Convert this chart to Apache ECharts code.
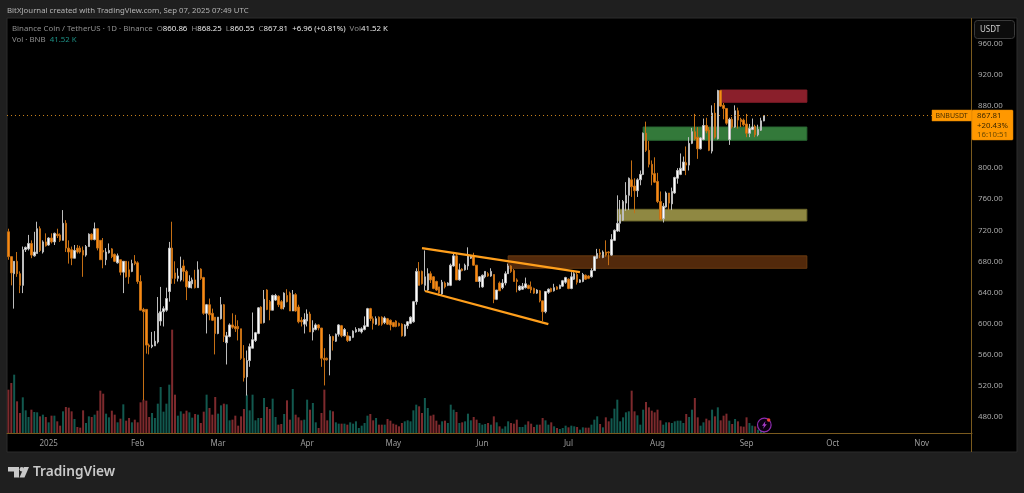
<!DOCTYPE html>
<html><head><meta charset="utf-8">
<style>html,body{margin:0;padding:0;background:#1f1f1f}#c{width:1024px;height:493px}</style>
<script src="https://cdn.jsdelivr.net/npm/echarts@6/dist/echarts.min.js"></script></head>
<body><div id="c"></div>
<script>
const startDay = '2024-12-18';
const dayCount = 336;
const tickLabels = {'2025-01-01':'2025','2025-02-01':'Feb','2025-03-01':'Mar','2025-04-01':'Apr','2025-05-01':'May','2025-06-01':'Jun','2025-07-01':'Jul','2025-08-01':'Aug','2025-09-01':'Sep','2025-10-01':'Oct','2025-11-01':'Nov'};
const hiddenPriceTicks = [440,840,1000];
// open, close, low, high
const candlesWinter = [
[718,686,682,722],[686,665,649,686],[664,680,619,680],[680,664,660,692],[664,649,639,667],[649,695,639,699],[695,698,692,699],[696,703,694,714],[703,688,684,707],[687,692,686,718],
[690,722,690,731],[722,694,692,725],[692,705,690,707],[705,700,699,716],[701,710,700,711],[710,705,703,716],[705,716,701,717],[715,713,710,722],[714,707,705,716],[707,729,707,746],
[729,697,692,733],[697,692,677,707],[695,684,675,699],[684,694,684,701],[697,692,690,701],[697,692,690,700],[694,688,660,699],[688,699,686,701],[699,715,699,716],[715,708,707,716],
[708,722,707,730],[722,697,694,722],[707,682,682,707],[694,692,671,710],[682,692,675,697],[691,694,690,703],[696,686,684,697],[689,680,679,690],[678,687,677,690],[682,666,662,682],
[666,680,639,680],[680,660,659,680],[669,660,651,680],[667,677,666,682],[680,677,675,688],[678,654,651,680],[654,617,617,662],[618,615,501,620],[618,572,561,618],[572,570,560,574],
[570,572,568,589],[571,577,571,590],[576,613,574,634],[603,615,597,647],[615,619,596,622],[617,632,615,646],[641,697,628,705],[697,658,651,731],[665,658,651,680],[658,661,654,671],
[656,671,654,686],[674,667,654,682],[667,647,630,669],[646,654,646,662],[651,656,645,659],[656,646,645,669],[646,669,646,680],[670,658,656,671],[659,613,611,660],[613,624,587,625],
[624,611,604,632],[613,604,603,619],[608,587,560,608],[587,608,586,608],[606,624,605,634],[624,583,576,625],[575,584,547,589],[583,598,582,600],[598,595,593,613],[596,593,589,611],
[596,593,578,604],[593,555,553,593],[555,530,525,572],[531,552,507,565],[552,570,544,574],[568,579,568,614],[578,588,576,589],[587,620,586,621]];
const candlesSpring = [
[621,600,600,622],[601,631,600,643],[643,618,617,644],[628,617,604,630],[617,636,617,637],[630,636,629,638],[635,624,621,636],[628,619,618,630],[621,639,618,640],[636,628,627,644],
[639,616,616,641],[616,637,616,643],[637,616,615,639],[621,602,600,624],[604,602,596,608],[599,605,587,613],[603,612,596,618],[612,589,589,615],[589,594,578,604],[592,598,591,600],
[598,594,591,599],[594,555,544,594],[555,553,520,568],[555,553,552,556],[553,583,533,586],[583,578,565,584],[577,586,576,587],[586,598,583,599],[597,584,582,598],[584,592,583,594],
[584,578,576,589],[578,583,577,584],[582,590,581,591],[589,592,588,595],[590,593,589,594],[589,593,587,595],[592,597,591,609],[596,619,596,620],[619,606,603,620],[606,600,592,609],
[599,606,598,609],[608,598,597,609],[608,599,597,609],[601,607,599,609],[606,599,598,607],[604,598,591,605],[601,596,595,602],[603,596,595,604],[600,597,596,601],[599,584,583,600],
[584,598,583,599],[597,602,593,603],[600,608,599,609],[602,628,601,629],[628,667,624,671],[667,649,649,679],[667,651,650,668],[649,660,642,694],[643,664,642,671],[664,656,652,667],
[660,645,644,661],[654,643,642,655],[647,639,636,647],[638,653,636,656],[652,647,645,654],[649,652,648,653],[649,675,648,677],[674,687,673,690],[687,656,656,690],[656,669,655,677],
[670,668,667,671],[669,675,668,677],[674,688,669,698],[684,687,683,688],[687,675,674,691],[675,654,654,675],[654,660,646,661],[647,662,646,663],[660,667,658,667],[664,661,660,666],
[661,667,660,671],[663,631,626,663],[631,643,630,643],[652,642,642,654],[646,652,644,657],[652,664,649,667],[664,674,664,677],[674,667,665,675],[668,654,654,670],[656,654,640,658],
[643,648,642,649],[644,648,643,652],[646,651,645,659],[649,645,644,650],[647,643,639,654],[645,639,638,646],[639,643,638,644],[642,629,627,643],[629,615,603,629],[615,641,613,641]];
const candlesSummer = [
[640,644,638,645],[645,641,640,646],[642,646,641,651],[647,644,643,648],[645,649,644,650],[648,655,647,656],[653,659,651,660],[657,645,644,658],[645,660,644,666],[657,664,656,666],
[663,653,650,666],[653,656,652,657],[654,663,653,665],[662,657,656,663],[661,658,657,662],[660,668,659,671],[668,686,668,687],[684,690,683,696],[691,689,684,696],[685,692,684,694],
[692,688,686,707],[692,691,675,693],[688,708,687,715],[707,720,706,721],[719,729,718,765],[729,740,718,759],[733,757,732,759],[755,765,745,782],[765,787,746,788],[785,776,763,810],
[777,771,742,787],[771,785,763,787],[785,792,778,797],[792,845,791,846],[845,823,821,860],[823,805,801,835],[805,792,778,810],[793,782,781,814],[783,757,755,794],[757,734,733,770],
[735,751,730,755],[750,768,749,770],[768,755,746,768],[754,770,746,775],[768,788,767,789],[787,797,780,800],[792,800,791,819],[797,808,797,815],[807,804,791,828],[804,832,797,840],
[832,847,831,852],[847,838,836,870],[840,825,812,853],[825,839,824,840],[837,855,836,864],[855,848,845,865],[849,823,822,853],[822,871,819,881],[871,840,838,884],[838,900,837,901],
[900,880,879,901],[881,877,863,884],[877,858,856,877],[837,863,830,865],[863,853,851,866],[853,874,852,881],[874,862,851,878],[863,860,853,865],[862,856,854,864],[857,845,840,870],
[845,851,840,857],[850,853,849,864],[854,843,840,856],[843,850,841,856],[849,861,848,865],[860.86,867.81,860.55,868.25]];
const volumes = [
260,300,350,190,120,214,136,96,140,126,124,100,110,96,64,104,104,70,44,130,156,152,130,84,36,32,136,60,100,96,110,134,254,236,116,94,134,110,64,86,172,74,90,64,80,64,184,200,194,96,
120,90,176,276,128,176,290,620,230,104,130,116,134,124,92,114,110,60,128,230,150,110,216,116,166,176,172,76,80,104,44,100,144,230,136,230,76,90,
90,210,156,144,206,96,50,54,114,196,80,264,110,94,76,80,200,140,180,64,30,120,260,76,136,130,64,56,56,56,50,64,56,70,30,44,60,104,114,76,90,50,50,50,84,74,56,50,40,60,70,76,70,136,170,
160,120,210,150,104,110,74,50,70,74,60,170,140,126,60,64,70,116,76,96,80,60,50,54,60,50,100,64,40,26,40,70,60,56,80,36,36,50,70,56,36,50,50,90,76,
50,64,40,30,24,30,44,34,44,40,36,20,34,32,32,50,80,100,54,34,94,70,88,146,200,70,94,124,130,254,130,106,50,140,186,154,134,124,140,76,50,64,64,60,70,74,74,60,114,96,140,210,94,44,64,86,76,140,100,154,76,104,116,74,54,84,70,40,38,94,60,44,40,20,24,41.52];
const candles = [...candlesWinter, ...candlesSpring, ...candlesSummer];
const upperTrendDates = ['2025-05-11','2025-07-05'];
const upperTrendPrices = [697,666];
const lowerTrendDates = ['2025-05-12','2025-06-24'];
const lowerTrendPrices = [641.7,599];
const zoneStarts = ['2025-08-23','2025-07-27','2025-07-18','2025-06-10'];
const zoneEnds   = ['2025-09-22','2025-09-22','2025-09-22','2025-09-22'];
const zoneTops   = [900.7,853,747,687];
const zoneBottoms= [885,836,732,671];
const zoneFills  = ['#8a1f2b','#33793a','#8f8842','#52290b'];
const zoneEdges  = ['#8a1f2b','#2a6a33','#6f6a2c','#6a3a10'];

const days = [];
for (let i=0;i<dayCount;i++){ days.push(new Date(Date.parse(startDay+'T00:00:00Z')+i*864e5).toISOString().slice(0,10)); }
const lastClose = candles[candles.length-1][1];
const F = '"Noto Sans", sans-serif';
const axisGold = '#7a5a1e';
const chart = echarts.init(document.getElementById('c'),null,{renderer:'canvas'});
const label = (x,y,text,color,size,extra) => ({type:'text',z:20,x,y:y+1,style:Object.assign({text,fill:color,font:(size||7.9)+'px '+F,verticalAlign:'middle'},extra||{})});
chart.setOption({
 backgroundColor:'#1f1f1f',animation:false,
 grid:[
  {left:7,right:52,top:13,height:434.52},
  {left:7,right:52,bottom:60,height:103.33}
 ],
 xAxis:[
  {type:'category',gridIndex:0,data:days,show:false},
  {type:'category',gridIndex:1,data:days,axisTick:{show:false},axisLine:{lineStyle:{color:axisGold,width:1}},splitLine:{show:false},
   axisLabel:{color:'#9b9b9b',fontSize:8,fontFamily:F,margin:7,hideOverlap:false,
    interval:(i,v)=>v in tickLabels,formatter:v=>tickLabels[v]||''}}
 ],
 yAxis:[
  {type:'value',gridIndex:0,position:'right',min:440,max:1000,interval:40,splitLine:{show:false},axisLine:{show:false},axisTick:{show:false},
   axisLabel:{color:'#a8a8a8',fontSize:7.9,fontFamily:F,margin:6,padding:[3,0,0,0],formatter:v=>hiddenPriceTicks.includes(v)?'':v.toFixed(2)}},
  {type:'value',gridIndex:1,min:0,max:620,show:false}
 ],
 series:[
  {name:'Vol',type:'bar',xAxisIndex:1,yAxisIndex:1,z:1,barWidth:2,data:volumes,
   itemStyle:{color:p=>{const c=candles[p.dataIndex];return c[1]>=c[0]?'#12594f':'#7d2a2d';}}},
  {name:'Zones',type:'line',xAxisIndex:0,yAxisIndex:0,z:1,data:[],
   markArea:{silent:true,data:zoneStarts.map((s,i)=>[
     {xAxis:s,yAxis:zoneTops[i],itemStyle:{color:zoneFills[i],borderColor:zoneEdges[i],borderWidth:1}},
     {xAxis:zoneEnds[i],yAxis:zoneBottoms[i]}])}},
  {name:'BNBUSDT',type:'candlestick',xAxisIndex:0,yAxisIndex:0,z:3,barWidth:2,data:candles,
   itemStyle:{color:'#ffffff',color0:'#f98a12',borderColor:'#bdbdbd',borderColor0:'#c56f14',borderWidth:1},
   markLine:{silent:true,symbol:'none',label:{show:false},data:[{yAxis:lastClose}],lineStyle:{color:'#c9821c',type:[1,3],width:1}}},
  {name:'Upper',type:'line',xAxisIndex:0,yAxisIndex:0,z:5,symbol:'none',lineStyle:{color:'#ff9f1c',width:2.2},
   data:upperTrendDates.map((d,i)=>[d,upperTrendPrices[i]])},
  {name:'Lower',type:'line',xAxisIndex:0,yAxisIndex:0,z:5,symbol:'none',lineStyle:{color:'#ff9f1c',width:2.2},
   data:lowerTrendDates.map((d,i)=>[d,lowerTrendPrices[i]])}
 ],
 graphic:[
  {type:'rect',z:-10,shape:{x:7,y:18,width:1010,height:434},style:{fill:'#000000',stroke:'#2c2c2c',lineWidth:1}},
  {type:'line',z:4,shape:{x1:971.5,y1:18,x2:971.5,y2:452},style:{stroke:axisGold,lineWidth:1}},
  label(7,10,'BitXJournal created with TradingView.com, Sep 07, 2025 07:49 UTC','#b4b4b4',7.8),
  {type:'text',z:20,x:12,y:29,style:{verticalAlign:'middle',text:'{g|Binance Coin / TetherUS · 1D · Binance  O}{w|860.86}{g|  H}{w|868.25}{g|  L}{w|860.55}{g|  C}{w|867.81}{w|  +6.96 (+0.81%)}{g|  Vol}{w|41.52 K}',
    rich:{g:{fill:'#8f8f8f',font:'7.85px '+F},w:{fill:'#e8e8e8',font:'7.85px '+F}}}},
  {type:'text',z:20,x:12,y:40,style:{verticalAlign:'middle',text:'{g|Vol · BNB  }{t|41.52 K}',
    rich:{g:{fill:'#8f8f8f',font:'7.85px '+F},t:{fill:'#1d8f84',font:'7.85px '+F}}}},
  {type:'rect',z:18,shape:{x:974.5,y:20.5,width:40,height:18,r:3},style:{fill:'#0c0c0c',stroke:'#3a3a3a',lineWidth:1}},
  label(980,29,'USDT','#d0d0d0',8),
  {type:'rect',z:18,shape:{x:932,y:110,width:40,height:11},style:{fill:'#ff9800',stroke:'#d98200',lineWidth:.5}},
  label(935.5,115,'BNBUSDT','#4a3000',7),
  {type:'rect',z:18,shape:{x:972,y:110,width:41,height:30,r:1},style:{fill:'#ff9800',stroke:'#d98200',lineWidth:.5}},
  label(977,115,'867.81','#3d2800',7.8),
  label(977,124.5,'+20.43%','#3d2800',7.8),
  label(977,134,'16:10:51','#6d4a00',7.8),
  {type:'circle',z:18,shape:{cx:764.3,cy:425,r:6.8},style:{fill:'#0a0010',stroke:'#8e2bb0',lineWidth:1.2}},
  {type:'polygon',z:19,shape:{points:[[765.5,421],[762,425.8],[764,425.8],[763,429],[766.8,424.2],[764.8,424.2]]},style:{fill:'#a83cc8'}},
  {type:'circle',z:19,shape:{cx:768.7,cy:420,r:1.7},style:{fill:'#f44336'}},
  {type:'polygon',z:5,shape:{points:[[8,467],[19,467],[19,477.5],[14,477.5],[14,471.5],[8,471.5]]},style:{fill:'#c9c9c9'}},
  {type:'circle',z:5,shape:{cx:21.8,cy:469.2,r:2.2},style:{fill:'#c9c9c9'}},
  {type:'polygon',z:5,shape:{points:[[24,467],[29,467],[24.5,477.5],[19.5,477.5]]},style:{fill:'#c9c9c9'}},
  {type:'text',z:20,x:33,y:472,style:{text:'TradingView',fill:'#c9c9c9',font:'600 13.7px '+F,verticalAlign:'middle'}}
 ]
});
</script></body></html>
